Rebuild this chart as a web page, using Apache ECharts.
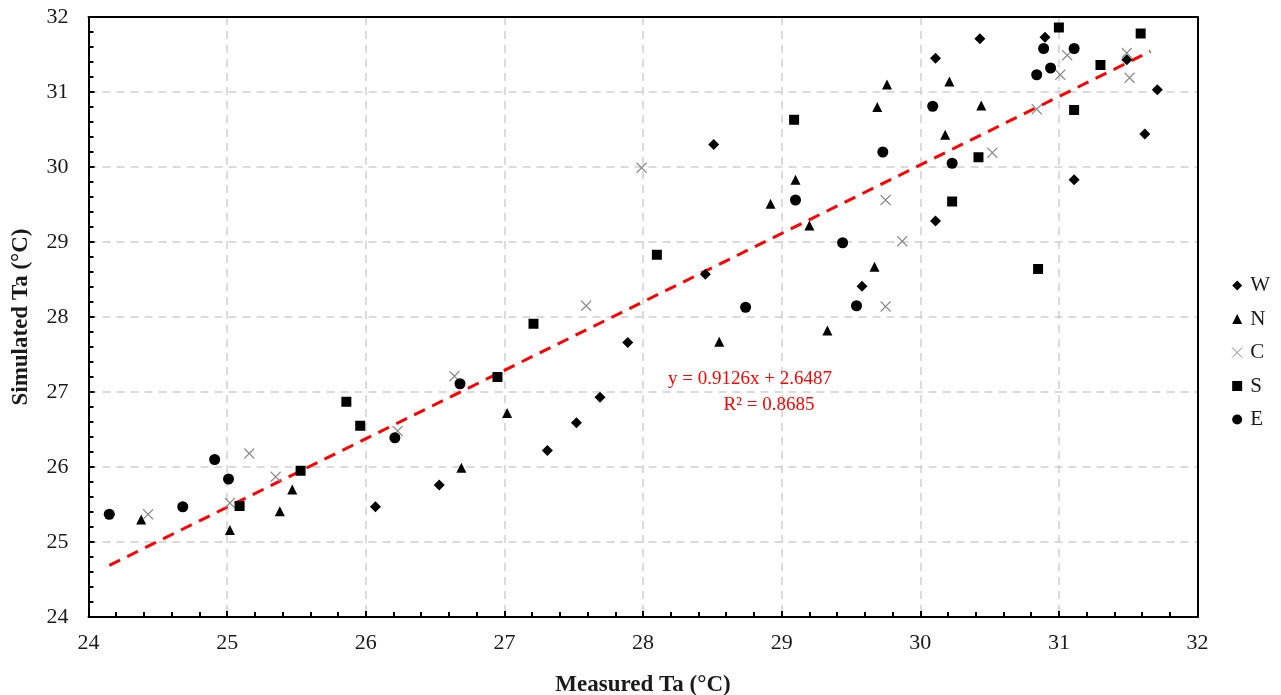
<!DOCTYPE html>
<html><head><meta charset="utf-8">
<script src="https://cdn.jsdelivr.net/npm/echarts@6/dist/echarts.min.js"></script>
<style>html,body{margin:0;padding:0;background:#fff}#c{width:1281px;height:695px}</style>
</head><body><div id="c"></div>
<script>
const seriesNames = ['W','N','C','S','E'];
const W = [[26.07,25.47],[26.53,25.76],[27.31,26.22],[27.52,26.59],[27.69,26.93],[27.89,27.66],[28.45,28.57],[28.51,30.30],[29.58,28.41],[30.11,29.28],[30.11,31.45],[30.43,31.71],[30.90,31.73],[31.11,29.83],[31.49,31.43],[31.62,30.44],[31.71,31.03]];
const N = [[24.38,25.30],[25.02,25.16],[25.38,25.41],[25.47,25.70],[26.69,25.99],[27.02,26.72],[28.55,27.67],[28.92,29.51],[29.10,29.83],[29.20,29.22],[29.33,27.82],[29.67,28.67],[29.69,30.80],[29.76,31.10],[30.18,30.43],[30.21,31.14],[30.44,30.82]];
const C = [[24.43,25.37],[25.02,25.52],[25.16,26.18],[25.35,25.87],[26.23,26.48],[26.64,27.21],[27.59,28.15],[27.99,29.99],[29.75,29.56],[29.75,28.14],[29.87,29.01],[30.52,30.19],[30.84,30.77],[31.01,31.23],[31.06,31.49],[31.49,31.52],[31.51,31.19]];
const S = [[25.09,25.48],[25.53,25.95],[25.86,26.87],[25.96,26.55],[26.95,27.20],[27.21,27.91],[28.10,28.83],[29.09,30.63],[30.23,29.54],[30.42,30.13],[30.85,28.64],[31.00,31.86],[31.11,30.76],[31.30,31.36],[31.59,31.78]];
const E = [[24.15,25.37],[24.68,25.47],[24.91,26.10],[25.01,25.84],[26.21,26.39],[26.68,27.11],[28.74,28.13],[29.10,29.56],[29.44,28.99],[29.54,28.15],[29.73,30.20],[30.09,30.81],[30.23,30.05],[30.84,31.23],[30.89,31.58],[30.94,31.32],[31.11,31.58]];
const slope = 0.9126, intercept = 2.6487, r2 = 0.8685;
const trendX = [24.15, 31.66];
const xTicks = [24,25,26,27,28,29,30,31,32];
const yTicks = [24,25,26,27,28,29,30,31,32];

const serif = '"Liberation Serif","Times New Roman",serif';
const chart = echarts.init(document.getElementById('c'));
const crossPath = 'path://M0,0L10,10M10,0L0,10';
const black = '#000';
function sc(name, data, symbol, size, extra){
  return Object.assign({type:'scatter', name, data, symbol, symbolSize:size,
    itemStyle:{color:black, opacity:1}, z:3}, extra||{});
}
const trendData = trendX.map(x => [x, slope*x + intercept]);
const frameAxis = {show:true, axisLine:{show:true, onZero:false, lineStyle:{color:'#000', width:2}},
  axisTick:{show:false}, axisLabel:{show:false}, splitLine:{show:false}, minorTick:{show:false}};
const mainAxis = (name, gap, labelMargin, ticks) => ({type:'value', min:24, max:32, interval:1,
  name, nameLocation:'middle', nameGap:gap,
  nameTextStyle:{fontFamily:serif, fontSize:23, fontWeight:'bold', color:'#1a1a1a'},
  axisLine:{onZero:false, lineStyle:{color:'#000', width:2}},
  axisTick:{show:true, inside:true, length:6, lineStyle:{color:'#000', width:2}},
  minorTick:{show:true, splitNumber:5, length:5, lineStyle:{color:'#000', width:2}},
  axisLabel:{fontFamily:serif, fontSize:22, color:'#1a1a1a', margin:labelMargin,
    formatter:v => ticks.includes(v) ? String(v) : ''},
  splitLine:{show:true, lineStyle:{color:'#cfcfcf', width:1.5, type:[8,6]}}});
chart.setOption({
  animation:false,
  grid:{left:88.5, right:83.5, top:17, bottom:78, containLabel:false, outerBoundsMode:'none'},
  legend:{orient:'vertical', right:6, top:269.5, itemGap:11.5, itemWidth:10, itemHeight:10,
    textStyle:{fontFamily:serif, fontSize:21, lineHeight:22, color:'#1a1a1a', padding:[0,0,0,3]},
    data:[
      {name:'W', icon:'diamond', itemStyle:{color:black, opacity:1}},
      {name:'N', icon:'triangle', itemStyle:{color:black, opacity:1}},
      {name:'C', icon:crossPath, itemStyle:{color:'transparent', borderColor:'#888', borderWidth:1}},
      {name:'S', icon:'rect', itemStyle:{color:black, opacity:1}},
      {name:'E', icon:'circle', itemStyle:{color:black, opacity:1}}
    ]},
  xAxis:[
    Object.assign(mainAxis('Measured Ta (°C)', 57, 15, xTicks), {position:'bottom'}),
    Object.assign({type:'value', min:24, max:32, position:'top'}, frameAxis)
  ],
  yAxis:[
    Object.assign(mainAxis('Simulated Ta (°C)', 56, 20, yTicks), {position:'left', nameRotate:90}),
    Object.assign({type:'value', min:24, max:32, position:'right'}, frameAxis)
  ],
  series:[
    {type:'line', name:'trend', data:trendData, showSymbol:false, symbol:'none', z:2,
      lineStyle:{color:'#ff0000', width:3, type:[12,8]}},
    sc('W', W, 'diamond', 11),
    sc('N', N, 'triangle', 10),
    sc('C', C, crossPath, 10, {itemStyle:{color:'transparent', borderColor:'#8a8a8a', borderWidth:1.1, opacity:1}}),
    sc('S', S, 'rect', 10),
    sc('E', E, 'circle', 11)
  ],
  graphic:[
    {type:'text', x:668, y:379, z:10, style:{text:'y = ' + slope.toFixed(4) + 'x + ' + intercept.toFixed(4),
      fill:'#ff0000', font:'19px ' + serif, align:'left', verticalAlign:'middle'}},
    {type:'text', x:769, y:405, z:10, style:{text:'R² = ' + r2.toFixed(4),
      fill:'#ff0000', font:'19px ' + serif, align:'center', verticalAlign:'middle'}}
  ]
});
</script></body></html>
